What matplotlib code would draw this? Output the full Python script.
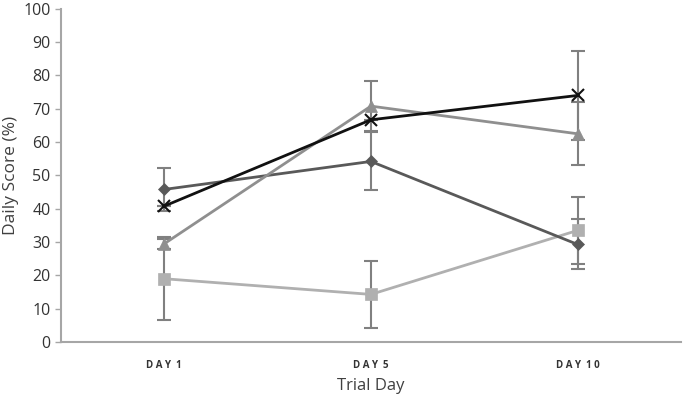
import matplotlib
matplotlib.use("Agg")
import matplotlib.pyplot as plt

# Data
days = ["D A Y  1", "D A Y  5", "D A Y  1 0"]

diamond = [45.8, 54.2, 29.3]
diamond_err = [6.5, 8.7, 7.5]

square = [19.0, 14.3, 33.5]
square_err = [12.5, 10.0, 10.0]

triangle = [29.5, 70.8, 62.5]
triangle_err = [1.5, 7.5, 9.5]

cross = [40.8, 66.7, 74.0]
cross_err = [0.0, 0.0, 13.4]

plt.rcParams["font.family"] = ["Open Sans", "DejaVu Sans"]

fig = plt.figure(figsize=(6.85, 4.01), dpi=100)
ax = fig.add_axes([0.089, 0.147, 0.905, 0.831])

x = list(range(len(days)))
ERR_COLOR = "#808080"

series = [
    (square, square_err, "#b0b0b0", "s", 8),
    (diamond, diamond_err, "#595959", "D", 6),
    (triangle, triangle_err, "#8f8f8f", "^", 8),
    (cross, cross_err, "#111111", "x", 9),
]

# error bars underneath
for vals, err, col, mk, ms in series:
    ax.errorbar(x, vals, yerr=err, fmt="none", ecolor=ERR_COLOR,
                elinewidth=1.5, capsize=5, capthick=1.5, zorder=1)

for z, (vals, err, col, mk, ms) in enumerate(series):
    ax.plot(x, vals, color=col, lw=2.0, marker=mk, ms=ms,
            mew=1.5 if mk == "x" else 0.5, mec=col, mfc=col, zorder=2 + z)

ax.set_xlim(-0.5, 2.5)
ax.set_ylim(0, 100)
ax.set_yticks(range(0, 101, 10))
ax.set_xticks(x)
ax.set_xticklabels(days, fontsize=7, fontweight="bold", color="#333333")
ax.tick_params(axis="x", length=0, pad=13)
ax.tick_params(axis="y", labelsize=11.5, length=4, width=1, direction="out",
               color="#a6a6a6", labelcolor="#333333")

for s in ["top", "right"]:
    ax.spines[s].set_visible(False)
for s in ["left", "bottom"]:
    ax.spines[s].set_color("#a6a6a6")
    ax.spines[s].set_linewidth(1.5)

ax.set_ylabel("Daily Score (%)", fontsize=12.5, color="#404040", labelpad=3)
ax.set_xlabel("Trial Day", fontsize=12, color="#404040", labelpad=5)

fig.savefig("out.png", dpi=100)
